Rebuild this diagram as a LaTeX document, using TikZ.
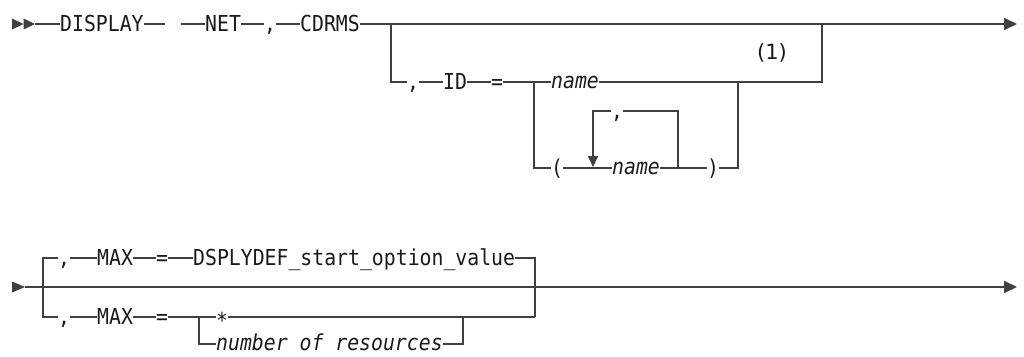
\documentclass[tikz,border=0pt]{standalone}
\usepackage{fontspec}
\newfontfamily\rrmono[FakeStretch=0.9]{DejaVu Sans Mono}
\newfontfamily\rrital[FakeStretch=0.9]{DejaVu Sans Mono Oblique}
\newfontfamily\rrsans{DejaVu Sans}
\usetikzlibrary{arrows.meta}
\definecolor{railc}{HTML}{404040}
\definecolor{txtc}{HTML}{1a1a1a}
\begin{document}
\begin{tikzpicture}[x=1pt,y=-1pt,
  rail/.style={draw=railc, line width=1.7pt, line join=miter},
  endarrow/.style={rail, -{Triangle[length=13pt,width=12pt]}, color=railc},
  kw/.style={inner sep=0pt, anchor=west, text height=14pt, text depth=0pt,
    font=\rrmono\fontsize{22}{22}\selectfont, text=txtc},
  var/.style={kw, text height=12pt, font=\rrital\fontsize{22}{22}\selectfont},
  starnode/.style={kw, text height=23pt},
  note/.style={inner sep=0pt, font=\rrsans\fontsize{21}{21}\selectfont, text=txtc},
  tri/.style={fill=railc, draw=none}
]
\useasboundingbox (0,0) rectangle (1024,356);

% ---------- row 1 ----------
\fill[tri] (12,18.5) -- (23.5,24) -- (12,29.5) -- cycle;
\fill[tri] (23.5,18.5) -- (35,24) -- (23.5,29.5) -- cycle;
\coordinate (s1) at (35,24);
\node[kw] (display) at (60,24) {DISPLAY};
\coordinate (g1) at (165,24);
\coordinate (g2) at (181,24);
\node[kw] (net) at (205,24) {NET};
\node[kw] (c1) at (264,24) {,};
\node[kw] (cdrms) at (300,24) {CDRMS};
\coordinate (e1) at (1017,24);

\draw[rail] (s1) -- (display.west);
\draw[rail] (display.east) -- (g1);
\draw[rail] (g2) -- (net.west);
\draw[rail] (net.east) -- (c1.west);
\draw[rail] (c1.east) -- (cdrms.west);
\draw[endarrow] (cdrms.east) -- (e1);

% optional ID branch
\coordinate (j1) at (391,24);
\node[kw] (c2) at (407,82) {,};
\node[kw] (id) at (443,82) {ID};
\node[kw] (eq1) at (491,82) {=};
\coordinate (j2) at (534,82);
\node[var] (name1) at (551,82) {name};
\coordinate (j3) at (738,82);
\coordinate (j4) at (822,82);
\coordinate (j4t) at (822,24);
\node[note] (fn) at (772,53) {(1)};

\draw[rail] (j1) |- (c2.west);
\draw[rail] (c2.east) -- (id.west);
\draw[rail] (id.east) -- (eq1.west);
\draw[rail] (eq1.east) -- (name1.west);
\draw[rail] (name1.east) -- (j4) -- (j4t);

% repeatable name list
\node[kw] (lp) at (551,168) {(};
\node[var] (name2) at (612,168) {name};
\node[kw] (rp) at (707,168) {)};
\coordinate (k1) at (678,168);
\coordinate (k2) at (678,111);
\node[kw] (c3) at (611,111) {,};
\coordinate (k3) at (593,111);
\coordinate (k4) at (593,167);

\draw[rail] (j2) |- (lp.west);
\draw[rail] (lp.east) -- (name2.west);
\draw[rail] (name2.east) -- (rp.west);
\draw[rail] (rp.east) -| (j3);
\draw[rail] (k1) -- (k2) -- (c3.east);
\draw[rail, -{Triangle[length=11pt,width=10pt]}, color=railc] (c3.west) -- (k3) -- (k4);

% ---------- row 2 ----------
\fill[tri] (12,281.5) -- (25,287) -- (12,292.5) -- cycle;
\coordinate (s2) at (25,287);
\coordinate (e2) at (1017,287);
\draw[endarrow] (s2) -- (e2);

\coordinate (b1) at (43,258);
\coordinate (b2) at (43,317);
\node[kw] (c4) at (58,258) {,};
\node[kw] (c5) at (58,317) {,};
\node[kw] (max1) at (97,258) {MAX};
\node[kw] (eq2) at (156,258) {=};
\node[kw] (dsp) at (193,258) {DSPLYDEF\_start\_option\_value};
\coordinate (b3) at (535,258);
\coordinate (b4) at (535,317);

\draw[rail] (c4.west) -- (b1) -- (b2) -- (c5.west);
\draw[rail] (c4.east) -- (max1.west);
\draw[rail] (max1.east) -- (eq2.west);
\draw[rail] (eq2.east) -- (dsp.west);
\draw[rail] (dsp.east) -- (b3) -- (b4);

\node[kw] (max2) at (97,317) {MAX};
\node[kw] (eq3) at (156,317) {=};
\coordinate (b5) at (199,317);
\node[starnode] (star) at (216,317) {*};
\node[var] (nor) at (216,344) {number of resources};
\coordinate (b6) at (463,317);

\draw[rail] (c5.east) -- (max2.west);
\draw[rail] (max2.east) -- (eq3.west);
\draw[rail] (eq3.east) -- (star.west);
\draw[rail] (star.east) -- (b4);
\draw[rail] (b5) |- (nor.west);
\draw[rail] (nor.east) -| (b6);
\end{tikzpicture}
\end{document}
